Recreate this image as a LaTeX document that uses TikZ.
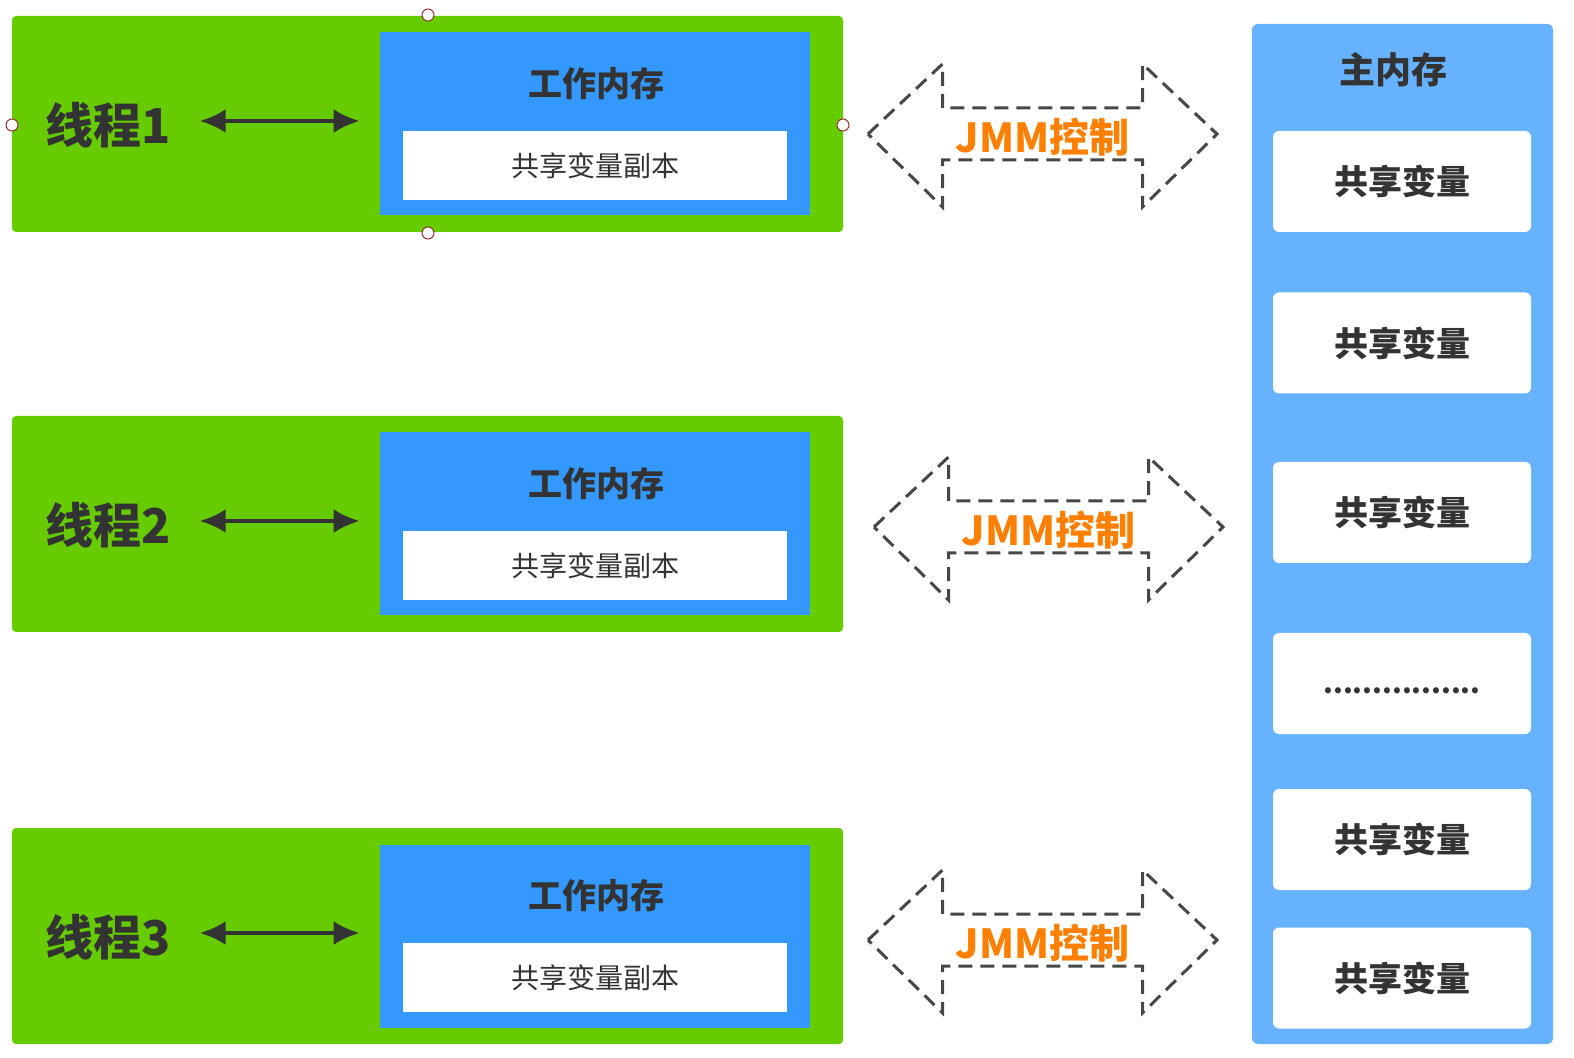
\documentclass[tikz,border=0pt]{standalone}
\usepackage{fontspec}
\setmainfont{Noto Sans CJK SC}
\usetikzlibrary{arrows.meta}

\definecolor{threadgreen}{HTML}{66CC00}
\definecolor{workblue}{HTML}{3399FF}
\definecolor{mainblue}{HTML}{66B2FF}
\definecolor{textgray}{HTML}{333333}
\definecolor{jmmorange}{HTML}{FF8000}
\definecolor{handlered}{HTML}{993333}

\begin{document}
\begin{tikzpicture}
  [x=0.5pt, y=-0.5pt,
   thread/.style={fill=threadgreen, rounded corners=2pt, inner sep=0pt, minimum width=415.5pt, minimum height=108pt},
   workmem/.style={fill=workblue, inner sep=0pt, minimum width=215pt, minimum height=91.5pt},
   copybox/.style={fill=white, inner sep=0pt, minimum width=192pt, minimum height=34.5pt, text=textgray, font=\fontsize{14}{16}\selectfont},
   label/.style={text=textgray, font=\bfseries\fontsize{17}{19}\selectfont},
   threadname/.style={text=textgray, font=\bfseries\fontsize{24}{28}\selectfont},
   varbox/.style={fill=white, rounded corners=3pt, inner sep=0pt, minimum width=129pt, minimum height=50.5pt, text=textgray, font=\bfseries\fontsize{17}{19}\selectfont},
   link/.style={line width=2pt, draw=textgray, {Latex[length=13pt,width=12pt]}-{Latex[length=13pt,width=12pt]}},
   dasharrow/.style={line width=1.5pt, draw=textgray!90, dash pattern=on 7pt off 4pt, line join=miter},
   jmm/.style={text=jmmorange, font=\bfseries\fontsize{20}{22}\selectfont},
   handle/.style={circle, draw=handlered, fill=white, line width=0.5pt, inner sep=0pt, minimum size=6pt}]

  \useasboundingbox (0,0) rectangle (1574,1058);

  % Threads with their working memory
  \foreach \i/\y in {1/124, 2/524, 3/936} {
    \node[thread] (th\i) at (427.5,\y) {};
    \node[workmem] (wm\i) at (595,\y) {};
    \node[label] (wt\i) at (596,\y-40) {工作内存};
    \node[copybox] (cp\i) at (595,\y+41.5) {共享变量副本};
    \node[threadname] (tn\i) at (108,\y+1) {线程\i};
    \draw[link] ([xshift=11pt]tn\i.east |- 0,\y-3) -- ([xshift=-10pt]wm\i.west |- 0,\y-3);
  }

  % Selection handles on the first thread
  \node[handle] (h1) at (428,15) {};
  \node[handle] (h2) at (428,233) {};
  \node[handle] (h3) at (12,125) {};
  \node[handle] (h4) at (843,125) {};

  % JMM control arrows
  \foreach \i/\cx/\cy in {1/1042.5/134, 2/1048.5/527, 3/1042.5/940} {
    \draw[dasharrow] (\cx-174.5,\cy) -- (\cx-100,\cy-70) -- (\cx-100,\cy-26) -- (\cx+100,\cy-26)
      -- (\cx+100,\cy-70) -- (\cx+174.5,\cy) -- (\cx+100,\cy+73) -- (\cx+100,\cy+26)
      -- (\cx-100,\cy+26) -- (\cx-100,\cy+73) -- cycle;
    \node[jmm] (jmm\i) at (\cx,\cy+3) {JMM控制};
  }

  % Main memory
  \node[fill=mainblue, rounded corners=3pt, inner sep=0pt, minimum width=150.5pt, minimum height=510pt] (main) at (1402.5,534) {};
  \node[text=textgray, font=\bfseries\fontsize{18}{20}\selectfont] (mt) at (1393,70) {主内存};
  \foreach \i/\y in {1/181.5, 2/343, 3/512.5, 5/839.5, 6/978} {
    \node[varbox] (v\i) at (1402,\y) {共享变量};
  }
  \node[varbox, font=\bfseries\fontsize{14}{16}\selectfont] (v4) at (1402,683.5) {\raisebox{-10pt}{................}};
\end{tikzpicture}
\end{document}
